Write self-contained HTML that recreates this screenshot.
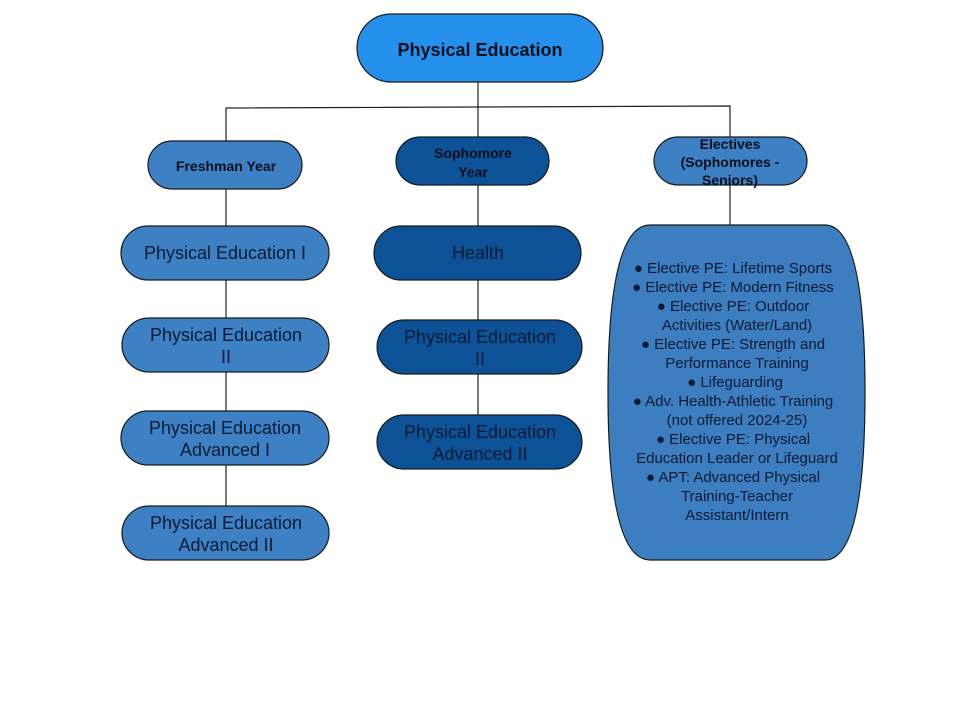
<!DOCTYPE html>
<html><head><meta charset="utf-8"><style>
html,body{margin:0;padding:0;background:#fff;}
svg{display:block;}
text{font-family:"Liberation Sans",Arial,sans-serif;}
</style></head><body>
<svg width="960" height="720" viewBox="0 0 960 720" xmlns="http://www.w3.org/2000/svg">
<g stroke="#222" stroke-width="1.2" fill="none">
<line x1="478" y1="82" x2="478" y2="137"/>
<polyline points="226,141 226,108 730,106 730,137"/>
<line x1="226" y1="189" x2="226" y2="226"/>
<line x1="226" y1="280" x2="226" y2="318"/>
<line x1="226" y1="372" x2="226" y2="411"/>
<line x1="226" y1="465" x2="226" y2="506"/>
<line x1="478" y1="185" x2="478" y2="226"/>
<line x1="478" y1="280" x2="478" y2="320"/>
<line x1="478" y1="374" x2="478" y2="415"/>
<line x1="730" y1="185" x2="730" y2="225"/>
</g>
<g stroke="#1a1a1a" stroke-width="1.2">
<rect x="357" y="14" width="246" height="68" rx="34" fill="#2590eb"/>
<rect x="148" y="141" width="154" height="48" rx="24" fill="#3d80c4"/>
<rect x="396" y="137" width="153" height="48" rx="24" fill="#0d5296"/>
<rect x="654" y="137" width="153" height="48" rx="24" fill="#3d80c4"/>
<rect x="121" y="226" width="208" height="54" rx="27" fill="#3d80c4"/>
<rect x="122" y="318" width="207" height="54" rx="27" fill="#3d80c4"/>
<rect x="121" y="411" width="208" height="54" rx="27" fill="#3d80c4"/>
<rect x="122" y="506" width="207" height="54" rx="27" fill="#3d80c4"/>
<rect x="374" y="226" width="207" height="54" rx="27" fill="#0d5296"/>
<rect x="377" y="320" width="205" height="54" rx="27" fill="#0d5296"/>
<rect x="377" y="415" width="205" height="54" rx="27" fill="#0d5296"/>
<path d="M650,225 L825,225 Q865,225 865,392 Q865,560 825,560 L650,560 Q608,560 608,392 Q608,225 650,225 Z" fill="#3d7ec0"/>
</g>
<g font-weight="bold" fill="#0a0f1e" text-anchor="middle">
<text x="480" y="56" font-size="18">Physical Education</text>
<text x="226" y="171" font-size="14">Freshman Year</text>
<text x="473" y="158" font-size="14">Sophomore</text>
<text x="473" y="177" font-size="14">Year</text>
<text x="730" y="149" font-size="14">Electives</text>
<text x="730" y="167" font-size="14">(Sophomores -</text>
<text x="730" y="185" font-size="14">Seniors)</text>
</g>
<g fill="#0c1a33" text-anchor="middle" font-size="18">
<text x="225" y="259">Physical Education I</text>
<text x="226" y="341">Physical Education</text>
<text x="226" y="363">II</text>
<text x="225" y="434">Physical Education</text>
<text x="225" y="456">Advanced I</text>
<text x="226" y="529">Physical Education</text>
<text x="226" y="551">Advanced II</text>
<text x="478" y="259">Health</text>
<text x="480" y="343">Physical Education</text>
<text x="480" y="365">II</text>
<text x="480" y="438">Physical Education</text>
<text x="480" y="460">Advanced II</text>
</g>
<g fill="#0c1a33" text-anchor="middle" font-size="15">
<text x="733" y="273">●  Elective PE: Lifetime Sports</text>
<text x="733" y="292">●  Elective PE: Modern Fitness</text>
<text x="733" y="311">●  Elective PE: Outdoor</text>
<text x="737" y="330">Activities (Water/Land)</text>
<text x="733" y="349">●  Elective PE: Strength and</text>
<text x="737" y="368">Performance Training</text>
<text x="735" y="387">●  Lifeguarding</text>
<text x="733" y="406">●  Adv. Health-Athletic Training</text>
<text x="737" y="425">(not offered 2024-25)</text>
<text x="733" y="444">●  Elective PE: Physical</text>
<text x="737" y="463">Education Leader or Lifeguard</text>
<text x="733" y="482">●  APT: Advanced Physical</text>
<text x="737" y="501">Training-Teacher</text>
<text x="737" y="520">Assistant/Intern</text>
</g>
</svg>
</body></html>
